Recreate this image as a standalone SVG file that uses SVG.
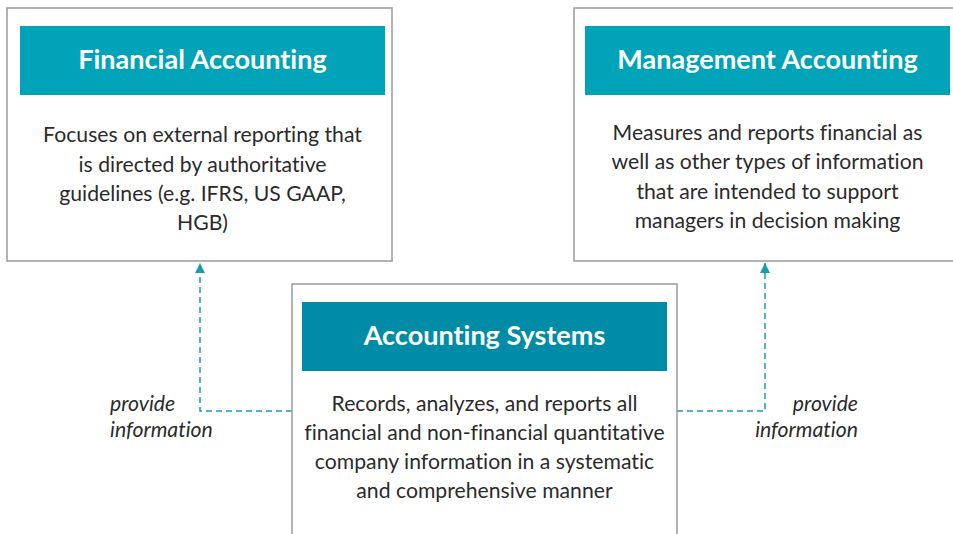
<svg xmlns="http://www.w3.org/2000/svg" width="953" height="534" viewBox="0 0 953 534">
<style>
text{font-variant-ligatures:none;font-feature-settings:"liga" 0,"clig" 0,"calt" 0,"dlig" 0;letter-spacing:0.01px}
.box{fill:#fff;stroke:#9a9a9a;stroke-width:1.5}
.hdr{fill:#00A3B8}
.hdr2{fill:#008CA6}
.title{font-family:Lato,"Open Sans",sans-serif;font-weight:bold;font-size:27px;fill:#fff;text-anchor:middle}
.body{font-family:Lato,"Open Sans",sans-serif;font-size:21.2px;fill:#2b2b2b;text-anchor:middle}
.lbl{font-family:Lato,"Open Sans",sans-serif;font-style:italic;font-size:21.2px;fill:#2b2b2b}
.conn{fill:none;stroke:#1A9BB2;stroke-width:1.5;stroke-dasharray:6 4}
</style>
<defs>
<marker id="arr" viewBox="0 0 10 10" refX="10" refY="5" markerWidth="10" markerHeight="10" markerUnits="userSpaceOnUse" orient="auto">
<path d="M0,0 L10,5 L0,10 Z" fill="#1A9BB2"/>
</marker>
</defs>
<g id="connectors">
<path class="conn" d="M292,411 H200 V263" marker-end="url(#arr)"/>
<path class="conn" d="M677,411 H765 V263" marker-end="url(#arr)"/>
</g>
<g id="financial">
<rect class="box" x="7" y="8" width="385" height="253"/>
<rect class="hdr" x="20" y="26" width="365" height="69"/>
<text class="title" x="202.5" y="69">Financial Accounting</text>
<text class="body" x="202.5" y="142">Focuses on external reporting that</text>
<text class="body" x="202.5" y="172">is directed by authoritative</text>
<text class="body" x="202.5" y="201">guidelines (e.g. IFRS, US GAAP,</text>
<text class="body" x="202.5" y="230">HGB)</text>
</g>
<g id="management">
<rect class="box" x="574" y="8" width="390" height="253"/>
<rect class="hdr" x="585" y="26" width="365" height="69"/>
<text class="title" x="767.5" y="69">Management Accounting</text>
<text class="body" x="767.5" y="140">Measures and reports financial as</text>
<text class="body" x="767.5" y="169">well as other types of information</text>
<text class="body" x="767.5" y="199">that are intended to support</text>
<text class="body" x="767.5" y="228">managers in decision making</text>
</g>
<g id="systems">
<rect class="box" x="292" y="284" width="385" height="260"/>
<rect class="hdr2" x="302" y="302" width="365" height="69"/>
<text class="title" x="484.5" y="345">Accounting Systems</text>
<text class="body" x="484.5" y="411">Records, analyzes, and reports all</text>
<text class="body" x="484.5" y="440">financial and non-financial quantitative</text>
<text class="body" x="484.5" y="469">company information in a systematic</text>
<text class="body" x="484.5" y="498">and comprehensive manner</text>
</g>
<g id="label-left">
<text class="lbl" x="110" y="411">provide</text>
<text class="lbl" x="110" y="437">information</text>
</g>
<g id="label-right">
<text class="lbl" x="858" y="411" text-anchor="end">provide</text>
<text class="lbl" x="858" y="437" text-anchor="end">information</text>
</g>
</svg>
